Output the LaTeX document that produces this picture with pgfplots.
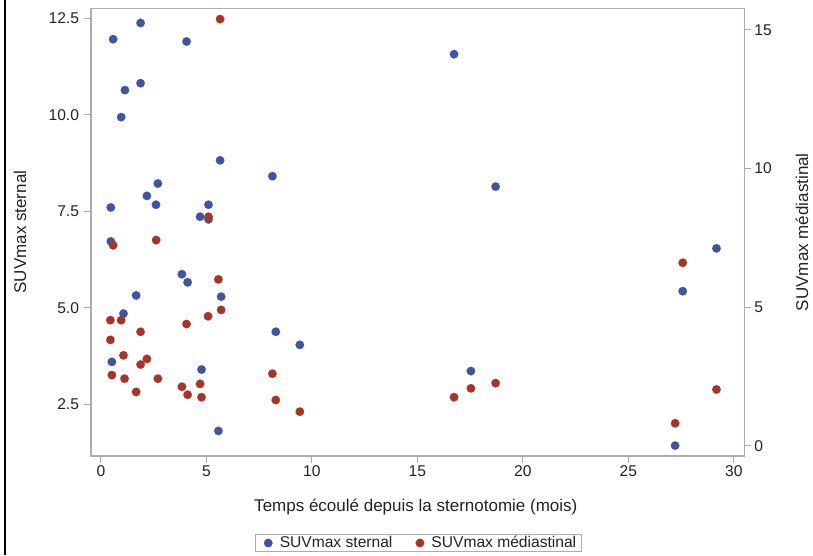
\documentclass[border=0pt]{standalone}
\usepackage{fontspec}
\setmainfont{Liberation Sans}
\usepackage{pgfplots}
\usepackage{pgfplotstable}
\pgfplotsset{compat=1.18}

\definecolor{sasblue}{RGB}{64,84,160}
\definecolor{sasred}{RGB}{166,52,40}
\definecolor{axgray}{RGB}{170,174,178}
\definecolor{txt}{RGB}{35,35,35}

% temps (mois), SUVmax sternal
\pgfplotstableread{
x y
0.58 11.96
1.88 12.38
4.06 11.90
1.14 10.64
1.88 10.82
0.96 9.94
5.65 8.82
8.13 8.41
2.70 8.22
2.18 7.90
2.61 7.67
5.10 7.67
0.47 7.60
4.70 7.36
5.10 7.29
0.47 6.72
3.84 5.87
4.11 5.66
1.67 5.32
5.70 5.29
1.07 4.85
8.29 4.38
9.43 4.04
0.52 3.60
4.77 3.40
5.57 1.81
16.74 11.57
18.71 8.14
17.54 3.36
29.18 6.54
27.58 5.43
27.22 1.43
}\sternal

% temps (mois), SUVmax mediastinal
\pgfplotstableread{
x y
5.65 15.39
5.10 8.26
2.62 7.42
0.58 7.23
5.57 6.00
5.70 4.90
5.08 4.67
4.06 4.39
0.45 4.53
0.96 4.53
1.88 4.11
0.45 3.82
1.07 3.26
2.18 3.13
1.88 2.93
0.52 2.55
1.12 2.42
2.70 2.42
8.13 2.60
1.67 1.94
3.84 2.13
4.70 2.23
4.11 1.84
4.77 1.75
8.29 1.65
9.43 1.23
17.54 2.07
16.74 1.75
18.71 2.26
27.58 6.60
29.18 2.03
27.22 0.81
}\mediastinal

\pgfplotsset{
  common/.style={
    scale only axis, width=653.3pt, height=447.7pt,
    at={(91pt,99pt)}, anchor=south west,
    xmin=-0.47, xmax=30.5,
    axis line style={axgray, line width=1.3pt},
    tick style={axgray, line width=1pt},
    major tick length=6.5pt,
    tick align=outside,
    ticklabel style={font=\fontsize{15.6}{18}\selectfont, text=txt},
    label style={font=\fontsize{17}{20}\selectfont, text=txt},
    /pgf/number format/assume math mode=true,
  },
  dots/.style={only marks, mark=*, mark size=4.3pt, color=#1,
    mark options={solid, draw=#1, fill=#1, line width=0.1pt}},
}

\begin{document}
\begin{tikzpicture}
\useasboundingbox (0,0) rectangle (813pt,555pt);
\begin{axis}[common,
    ymin=1.16, ymax=12.76,
    xtick={0,5,...,30}, xtick pos=left,
    ytick={2.5,5,7.5,10,12.5}, ytick pos=left,
    yticklabel style={xshift=-2pt, /pgf/number format/.cd, fixed, fixed zerofill, precision=1},
    xlabel={Temps écoulé depuis la sternotomie (mois)},
    xlabel style={at={(axis description cs:0.4972,-0.1229)}, anchor=base},
    ylabel={SUVmax sternal},
    ylabel style={at={(axis description cs:-0.1087,0.5)}, anchor=center},
]
\addplot[dots=sasblue] table[x=x, y=y] {\sternal};
\end{axis}
\begin{axis}[common,
    ymin=-0.37, ymax=15.78,
    axis x line=none,
    axis y line*=right,
    ytick={0,5,10,15},
    ylabel={SUVmax médiastinal},
    ylabel style={at={(axis description cs:1.0883,0.5)}, anchor=center},
    legend columns=2,
    legend style={draw=axgray, line width=0.8pt, at={(axis description cs:0.5013,-0.1943)},
        anchor=center, font=\fontsize{15.6}{18}\selectfont, text=txt,
        inner xsep=3pt, inner ysep=0pt,
        /tikz/every even column/.append style={column sep=16pt}},
    legend image code/.code={\path[draw=none] (0pt,0pt) -- (19pt,0pt);
        \draw[#1] plot coordinates {(9.5pt,0pt)};},
]
\addlegendimage{dots=sasblue}
\addlegendentry{SUVmax sternal}
\addplot[dots=sasred] table[x=x, y=y] {\mediastinal};
\addlegendentry{SUVmax médiastinal}
\end{axis}
\draw[black, line width=2pt] (5.3pt,0) -- (5.3pt,555pt);
\end{tikzpicture}
\end{document}
